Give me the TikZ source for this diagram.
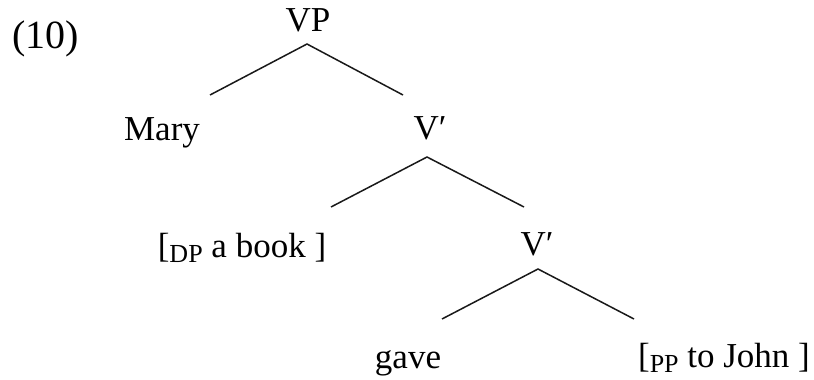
\documentclass[tikz,border=0pt]{standalone}
\usepackage{fontspec}
\newfontfamily\tnr{Liberation Serif}
\newcommand{\sbs}[1]{\raisebox{-5pt}{\fontsize{26}{28}\selectfont #1}}
\begin{document}
\begin{tikzpicture}[x=1pt,y=1pt,
  lbl/.style={anchor=base,inner sep=0pt,font=\tnr\fontsize{35}{40}\selectfont},
  branch/.style={line width=1.5pt,black!90}]
\useasboundingbox (0,0) rectangle (814,-380);
\node[anchor=base,inner sep=0pt,font=\tnr\fontsize{40}{44}\selectfont] (ex) at (46,-48) {(10)};
\node[lbl] (vp) at (308,-31) {VP};
\node[lbl] (mary) at (162,-140) {Mary};
\node[lbl] (vb1) at (430,-139) {V′};
\node[lbl] (dp) at (242,-257) {[\sbs{DP} a book ]};
\node[lbl] (vb2) at (537,-255) {V′};
\node[lbl] (gave) at (408,-368) {gave};
\node[lbl] (pp) at (724,-367) {[\sbs{PP} to John ]};
\coordinate (a1) at (307,-44);
\coordinate (l1) at (210,-95);
\coordinate (r1) at (403,-95);
\coordinate (a2) at (427,-157);
\coordinate (l2) at (331,-207);
\coordinate (r2) at (524,-207);
\coordinate (a3) at (538,-269);
\coordinate (l3) at (442,-319);
\coordinate (r3) at (634,-319);
\draw[branch] (l1) -- (a1) -- (r1);
\draw[branch] (l2) -- (a2) -- (r2);
\draw[branch] (l3) -- (a3) -- (r3);
\end{tikzpicture}
\end{document}
